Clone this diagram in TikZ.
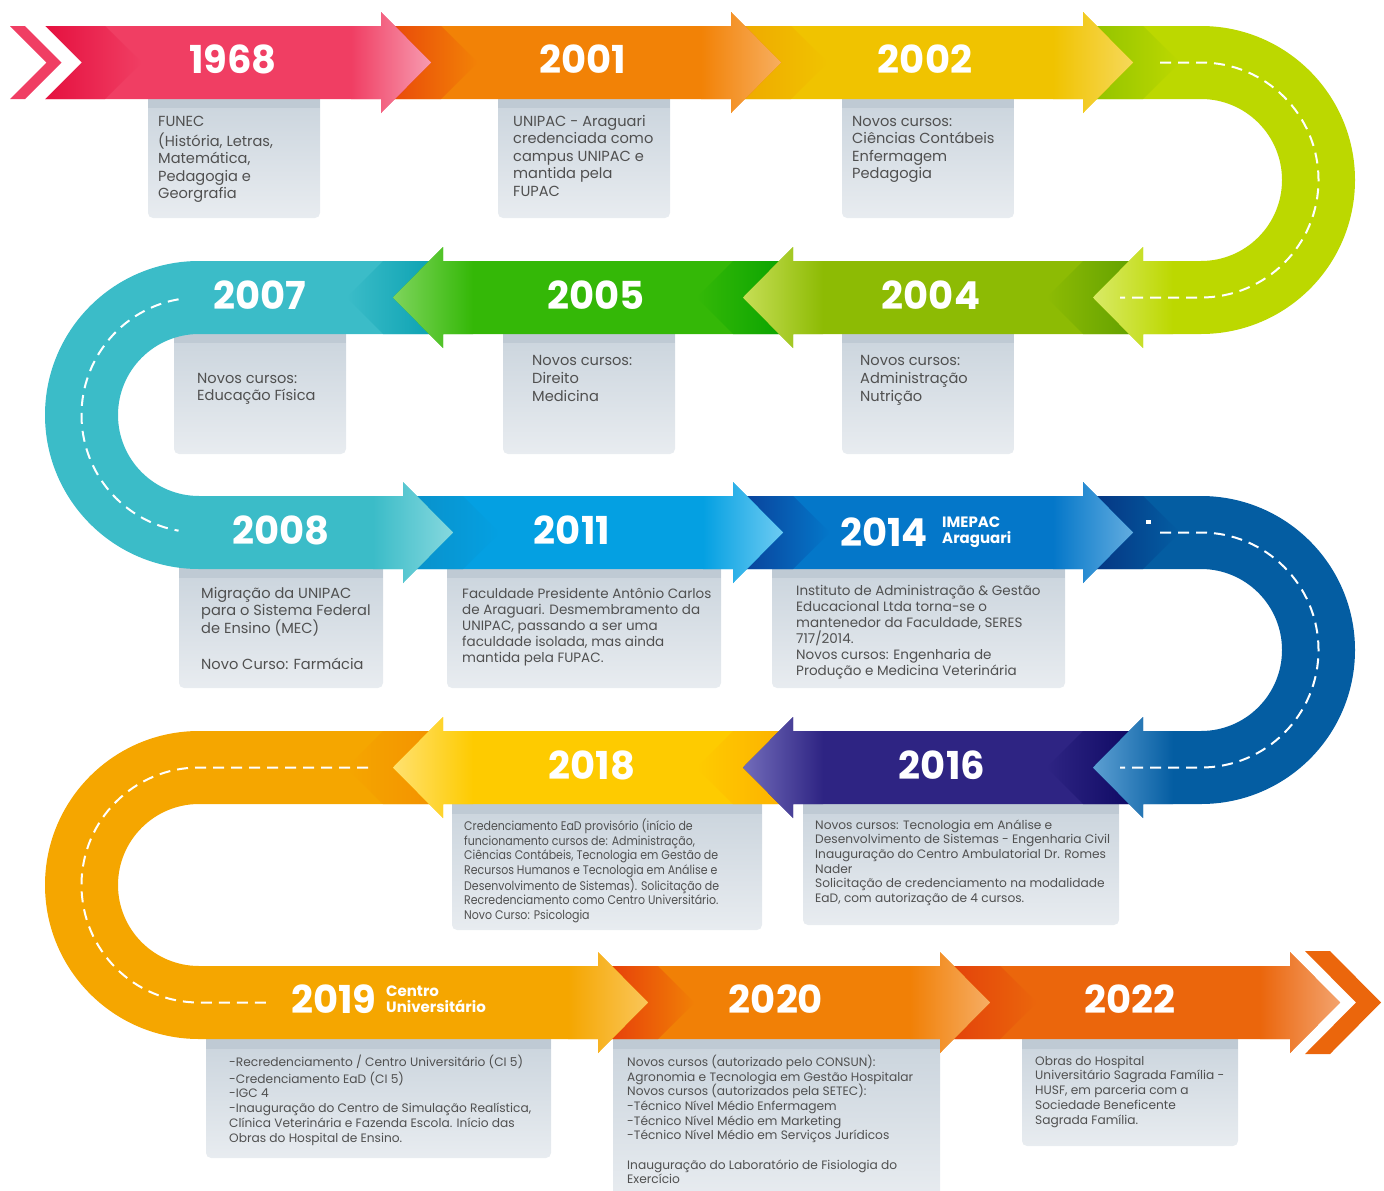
\documentclass[tikz,border=0pt]{standalone}
\usepackage{fontspec}
\setmainfont{Poppins}
\newfontfamily\condfont{Poppins}[FakeStretch=0.88]
\definecolor{c1968}{HTML}{F03E63}\definecolor{l1968}{HTML}{F79BB0}\definecolor{d1968}{HTML}{E5103F}
\definecolor{c2001}{HTML}{F28206}\definecolor{l2001}{HTML}{F7AE5F}\definecolor{d2001}{HTML}{E8430A}
\definecolor{c2002}{HTML}{F0C300}\definecolor{l2002}{HTML}{F6D85A}\definecolor{d2002}{HTML}{EFA600}
\definecolor{climeU}{HTML}{BCD800}\definecolor{llimeU}{HTML}{D9EA66}\definecolor{dlimeU}{HTML}{8EC100}
\definecolor{c2004}{HTML}{8DBB04}\definecolor{l2004}{HTML}{C6DE55}\definecolor{d2004}{HTML}{5E9E00}
\definecolor{c2005}{HTML}{34B807}\definecolor{l2005}{HTML}{7ED45C}\definecolor{d2005}{HTML}{06A200}
\definecolor{cteal}{HTML}{3BBCC8}\definecolor{lteal}{HTML}{86D8DE}\definecolor{dteal}{HTML}{079FB0}
\definecolor{c2011}{HTML}{04A0E2}\definecolor{l2011}{HTML}{6DCBF2}\definecolor{d2011}{HTML}{0A90C8}
\definecolor{c2014}{HTML}{0477C9}\definecolor{l2014}{HTML}{62ACDF}\definecolor{d2014}{HTML}{0A3C96}
\definecolor{cblueU}{HTML}{045DA2}\definecolor{lblueU}{HTML}{5C9FD2}\definecolor{dblueU}{HTML}{05317F}
\definecolor{c2016}{HTML}{2E2483}\definecolor{l2016}{HTML}{726CBA}\definecolor{d2016}{HTML}{0B0760}
\definecolor{c2018}{HTML}{FECB00}\definecolor{l2018}{HTML}{FFE170}\definecolor{d2018}{HTML}{FDAF00}
\definecolor{corangeU}{HTML}{F5A600}\definecolor{lorangeU}{HTML}{FAC65A}\definecolor{dorangeU}{HTML}{F39000}
\definecolor{c2020}{HTML}{F18006}\definecolor{l2020}{HTML}{F6AD64}\definecolor{d2020}{HTML}{E5370A}
\definecolor{c2022}{HTML}{EB660C}\definecolor{l2022}{HTML}{F3A36E}\definecolor{d2022}{HTML}{E23E0A}
\definecolor{txt}{HTML}{505050}
\definecolor{boxstrip}{HTML}{BFCAD4}\definecolor{boxtop}{HTML}{C9D3DC}\definecolor{boxbot}{HTML}{E8ECF0}
% head / tail shadings
\newcommand\RHead[4]{\shade[left color=#3,right color=#4] ({#1-30},-#2) -- (#1,-#2) -- (#1,{14-#2}) -- ({#1+50},{-#2-36.5}) -- (#1,{-#2-87}) -- (#1,{-#2-73}) -- ({#1-30},{-#2-73}) -- cycle;}
\newcommand\LHead[4]{\shade[right color=#3,left color=#4] ({#1+30},-#2) -- (#1,-#2) -- (#1,{14-#2}) -- ({#1-50},{-#2-36.5}) -- (#1,{-#2-87}) -- (#1,{-#2-73}) -- ({#1+30},{-#2-73}) -- cycle;}
\newcommand\RTail[4]{\shade[left color=#4,right color=#3] (#1,-#2) -- ({#1+60},-#2) -- ({#1+96.5},{-#2-36.5}) -- ({#1+60},{-#2-73}) -- (#1,{-#2-73}) -- cycle;}
\newcommand\LTail[4]{\shade[right color=#4,left color=#3] (#1,-#2) -- ({#1-60},-#2) -- ({#1-96.5},{-#2-36.5}) -- ({#1-60},{-#2-73}) -- (#1,{-#2-73}) -- cycle;}
% straight arrows: start x, head base x, band top, main, light, dark
\newcommand\RArrow[6]{\fill[#4] (#1,-#3) -- (#2,-#3) -- (#2,{14-#3}) -- ({#2+50},{-#3-36.5}) -- (#2,{-#3-87}) -- (#2,{-#3-73}) -- (#1,{-#3-73}) -- cycle;
 \RTail{#1}{#3}{#4}{#6}\RHead{#2}{#3}{#4}{#5}}
\newcommand\LArrow[6]{\fill[#4] (#1,-#3) -- (#2,-#3) -- (#2,{14-#3}) -- ({#2-50},{-#3-36.5}) -- (#2,{-#3-87}) -- (#2,{-#3-73}) -- (#1,{-#3-73}) -- cycle;
 \LTail{#1}{#3}{#4}{#6}\LHead{#2}{#3}{#4}{#5}}
% U turns: start x, head base x (lower leg), top, main, light, dark, centre x
\newcommand\URight[7]{\fill[#4] (#1,-#3) -- (#7,-#3) arc[start angle=90,end angle=-90,radius=154] -- (#2,{-#3-308}) -- (#2,{-#3-322}) -- ({#2-50},{-#3-271.5}) -- (#2,{-#3-221}) -- (#2,{-#3-235}) -- (#7,{-#3-235}) arc[start angle=-90,end angle=90,radius=81] -- (#1,{-#3-73}) -- cycle;
 \RTail{#1}{#3}{#4}{#6}\LHead{#2}{\the\numexpr#3+235\relax}{#4}{#5}}
\newcommand\ULeft[7]{\fill[#4] (#1,-#3) -- (#7,-#3) arc[start angle=90,end angle=270,radius=154] -- (#2,{-#3-308}) -- (#2,{-#3-322}) -- ({#2+50},{-#3-271.5}) -- (#2,{-#3-221}) -- (#2,{-#3-235}) -- (#7,{-#3-235}) arc[start angle=270,end angle=90,radius=81] -- (#1,{-#3-73}) -- cycle;
 \LTail{#1}{#3}{#4}{#6}\RHead{#2}{\the\numexpr#3+235\relax}{#4}{#5}}
\newcommand\tlbox[4]{\shade[top color=boxtop,bottom color=boxbot,rounded corners=5pt] (#1,{6-#2}) rectangle (#3,-#4);
 \fill[boxstrip] (#1,{6-#2}) rectangle (#3,{-#2-9});}
\tikzset{
 year/.style={text=white, inner sep=0pt, font=\fontsize{38.5}{40}\selectfont\bfseries},
 sublab/.style={text=white, inner sep=0pt, anchor=west, align=left, font=\fontsize{15}{16}\selectfont\bfseries},
 body/.style={anchor=north west, inner sep=0pt, align=left, text=txt},
 roaddash/.style={white, line width=2pt, dash pattern=on 11pt off 7pt},
}
\begin{document}
\begin{tikzpicture}[x=1pt,y=1pt]
\useasboundingbox (0,0) rectangle (1384,-1191);
\clip (0,0) rectangle (1384,-1191);
% boxes
\tlbox{148}{99}{320}{218}
\tlbox{498}{99}{670}{218}
\tlbox{842}{99}{1014}{218}
\tlbox{174}{334}{346}{454}
\tlbox{503}{334}{675}{454}
\tlbox{842}{334}{1014}{454}
\tlbox{179}{569}{383}{688}
\tlbox{447}{569}{721}{688}
\tlbox{772}{569}{1065}{688}
\tlbox{452}{805}{762}{930}
\tlbox{803}{805}{1119}{925}
\tlbox{206}{1040}{551}{1158}
\tlbox{613}{1040}{940}{1200}
\tlbox{1022}{1040}{1238}{1146}
% arrows, latest first
\RArrow{940}{1290}{966}{c2022}{l2022}{d2022}
\RArrow{598}{940}{966}{c2020}{l2020}{d2020}
\ULeft{443}{598}{731}{corangeU}{lorangeU}{dorangeU}{199}
\LArrow{793}{443}{731}{c2018}{l2018}{d2018}
\LArrow{1143}{793}{731}{c2016}{l2016}{d2016}
\URight{1083}{1143}{496}{cblueU}{lblueU}{dblueU}{1201}
\RArrow{733}{1083}{496}{c2014}{l2014}{d2014}
\RArrow{403}{733}{496}{c2011}{l2011}{d2011}
\ULeft{443}{403}{261}{cteal}{lteal}{dteal}{199}
\LArrow{793}{443}{261}{c2005}{l2005}{d2005}
\LArrow{1143}{793}{261}{c2004}{l2004}{d2004}
\URight{1083}{1143}{26}{climeU}{llimeU}{dlimeU}{1201}
\RArrow{731}{1083}{26}{c2002}{l2002}{d2002}
\RArrow{381}{731}{26}{c2001}{l2001}{d2001}
\RArrow{45}{381}{26}{c1968}{l1968}{d1968}
\fill[white] (44,-25) -- (81.5,-62.5) -- (44,-100) -- cycle;
\fill[c1968] (10,-26) -- (25,-26) -- (61.5,-62.5) -- (25,-99) -- (10,-99) -- (46.5,-62.5) -- cycle;
\fill[c2022] (1305,-951) -- (1330,-951) -- (1381,-1002.5) -- (1330,-1054) -- (1305,-1054) -- (1356,-1002.5) -- cycle;
% road dashes
\draw[roaddash] (1160,-62.5) -- (1201,-62.5) arc[start angle=90,end angle=-90,radius=117.5] -- (1120,-297.5);
\draw[roaddash] ([shift={(100:117.5)}]199,-415) arc[start angle=100,end angle=260,radius=117.5];
\draw[roaddash] (1160,-532.5) -- (1201,-532.5) arc[start angle=90,end angle=-90,radius=117.5] -- (1120,-767.5);
\draw[roaddash] (368,-767.5) -- (199,-767.5) arc[start angle=90,end angle=270,radius=117.5] -- (272,-1002.5);
\fill[white] (1146,-520) rectangle (1151,-524);
% years
\node[year] (y1968) at (233,-59) {1968};
\node[year] (y2001) at (583,-59) {2001};
\node[year] (y2002) at (925,-59) {2002};
\node[year] (y2007) at (260,-295) {2007};
\node[year] (y2005) at (596,-295) {2005};
\node[year] (y2004) at (931,-295) {2004};
\node[year] (y2008) at (281,-530) {2008};
\node[year] (y2011) at (572,-530) {2011};
\node[year] (y2014) at (884,-532) {2014};
\node[sublab] (imepac) at (942,-532) {IMEPAC\\Araguari};
\node[year] (y2018) at (592,-765) {2018};
\node[year] (y2016) at (942,-765) {2016};
\node[year] (y2019) at (334,-999) {2019};
\node[sublab] (centro) at (386,-999) {Centro\\Universitário};
\node[year] (y2020) at (776,-999) {2020};
\node[year] (y2022) at (1130,-999) {2022};
% texts
\node[body,font=\fontsize{14.6}{17.5}\selectfont] (t1968) at (158,-113.8) {\strut FUNEC\\(História, Letras,\\Matemática,\\Pedagogia e\\Georgrafia};
\node[body,font=\fontsize{14.6}{17.5}\selectfont] (t2001) at (513,-113.8) {\strut UNIPAC - Araguari\\credenciada como\\campus UNIPAC e\\mantida pela\\FUPAC};
\node[body,font=\fontsize{14.6}{17.5}\selectfont] (t2002) at (852,-113.8) {\strut Novos cursos:\\Ciências Contábeis\\Enfermagem\\Pedagogia};
\node[body,font=\fontsize{14.6}{17}\selectfont] (t2007) at (197,-371.1) {\strut Novos cursos:\\Educação Física};
\node[body,font=\fontsize{14.6}{18}\selectfont] (t2005) at (532,-352.4) {\strut Novos cursos:\\Direito\\Medicina};
\node[body,font=\fontsize{14.6}{18}\selectfont] (t2004) at (860,-352.4) {\strut Novos cursos:\\Administração\\Nutrição};
\node[body,font=\fontsize{14.6}{17.8}\selectfont] (t2008) at (201,-585.5) {\strut Migração da UNIPAC\\para o Sistema Federal\\de Ensino (MEC)\\[17.8pt]Novo Curso: Farmácia};
\node[body,font=\fontsize{13.5}{16}\selectfont] (t2011) at (462,-586.8) {\strut Faculdade Presidente Antônio Carlos\\de Araguari. Desmembramento da\\UNIPAC, passando a ser uma\\faculdade isolada, mas ainda\\mantida pela FUPAC.};
\node[body,font=\fontsize{13.5}{16}\selectfont] (t2014) at (796,-583.8) {\strut Instituto de Administração \& Gestão\\Educacional Ltda torna-se o\\mantenedor da Faculdade, SERES\\717/2014.\\Novos cursos: Engenharia de\\Produção e Medicina Veterinária};
\node[body,font=\condfont\fontsize{12.5}{14.5}\selectfont] (t2018) at (464,-818.9) {\strut Credenciamento EaD provisório (início de\\funcionamento cursos de: Administração,\\Ciências Contábeis, Tecnologia em Gestão de\\Recursos Humanos e Tecnologia em Análise e\\Desenvolvimento de Sistemas). Solicitação de\\Recredenciamento como Centro Universitário.\\Novo Curso: Psicologia};
\node[body,font=\fontsize{12.2}{14.6}\selectfont] (t2016) at (815,-818.8) {\strut Novos cursos: Tecnologia em Análise e\\Desenvolvimento de Sistemas - Engenharia Civil\\Inauguração do Centro Ambulatorial Dr. Romes\\Nader\\Solicitação de credenciamento na modalidade\\EaD, com autorização de 4 cursos.};
\node[body,font=\fontsize{12.2}{14.7}\selectfont] (t2019) at (229,-1054.7) {\strut -Recredenciamento / Centro Universitário (CI 5)\\-Credenciamento EaD (CI 5)\\-IGC 4\\-Inauguração do Centro de Simulação Realística,\\Clínica Veterinária e Fazenda Escola. Início das\\Obras do Hospital de Ensino.};
\node[body,font=\fontsize{12.2}{14.7}\selectfont] (t2020) at (627,-1054.7) {\strut Novos cursos (autorizado pelo CONSUN):\\Agronomia e Tecnologia em Gestão Hospitalar\\Novos cursos (autorizados pela SETEC):\\-Técnico Nível Médio Enfermagem\\-Técnico Nível Médio em Marketing\\-Técnico Nível Médio em Serviços Jurídicos\\[14.7pt]Inauguração do Laboratório de Fisiologia do\\Exercício};
\node[body,font=\fontsize{12.2}{14.7}\selectfont] (t2022) at (1035,-1054.7) {\strut Obras do Hospital\\Universitário Sagrada Família -\\HUSF, em parceria com a\\Sociedade Beneficente\\Sagrada Família.};
\end{tikzpicture}
\end{document}
